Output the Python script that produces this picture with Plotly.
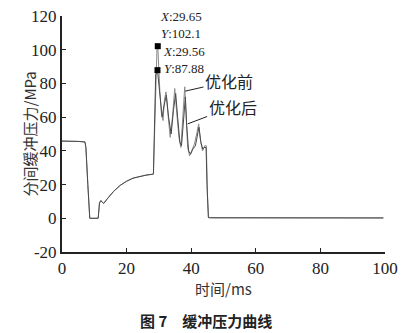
import plotly.graph_objects as go

# shared early part (ms, MPa)
t_common = [0, 2, 5, 7.1, 7.4, 8.0, 8.4, 8.6, 11.2, 11.6, 12.0, 12.5, 12.9, 14, 16, 18, 20, 22, 24, 26, 28.3]
p_common = [45.8, 45.8, 45.6, 45.3, 42, 20, 8, 0, 0, 9, 10.5, 9.5, 8.8, 11.5, 16, 19.5, 22, 23.8, 24.8, 25.6, 26.2]

t_after = [28.7, 29.0, 29.56, 30.0, 30.5, 31.0, 31.5, 32.3, 33.0, 33.8, 34.5, 35.2, 35.8, 36.5, 37.0, 37.6,
           38.2, 38.6, 39.2, 39.8, 40.5, 41.3, 42.0, 42.4, 43.0, 43.6, 44.0, 44.6, 44.9, 45.3, 46, 60, 80, 99.5]
p_after = [60, 85, 87.88, 80, 68, 60, 66, 73, 60, 50, 64, 74, 60, 45, 43, 60,
           72, 55, 40, 38, 41, 43, 50, 54, 45, 41, 42, 42, 20, 0.5, 0.3, 0.3, 0.2, 0.2]

t_before = [28.7, 29.2, 29.4, 29.65, 29.9, 30.3, 30.8, 31.3, 31.7, 32.2, 32.8, 33.5, 34.2, 34.9, 35.5, 36.2,
            36.8, 37.4, 38.0, 38.4, 38.9, 39.5, 40.2, 41.0, 41.8, 42.3, 42.9, 43.5, 44.2, 44.7, 45.0, 45.4, 46, 60, 80, 99.5]
p_before = [60, 88, 100, 102.1, 90, 75, 62, 58, 70, 75, 62, 48, 60, 77, 63, 48,
            42, 60, 78, 62, 42, 37, 40, 44, 51, 56, 46, 40, 43, 43, 15, 0.3, 0.3, 0.3, 0.2, 0.2]

peak_x = [29.65, 29.56]
peak_y = [102.1, 87.88]

x_ticks = [0, 20, 40, 60, 80, 100]
x_labels = ["0", "20", "40", "60", "80", "100"]
y_ticks = [-20, 0, 20, 40, 60, 80, 100, 120]
y_labels = ["-20", "0", "20", "40", "60", "80", "100", "120"]

serif = "Liberation Serif"
cjk = "Noto Sans CJK SC"

fig = go.Figure()
fig.add_trace(go.Scatter(x=t_common + t_before, y=p_common + p_before, mode="lines",
                         line=dict(color="#8a8a8a", width=1), name="优化前"))
fig.add_trace(go.Scatter(x=t_common + t_after, y=p_common + p_after, mode="lines",
                         line=dict(color="#4a4a4a", width=1), name="优化后"))
fig.add_trace(go.Scatter(x=peak_x, y=peak_y, mode="markers",
                         marker=dict(symbol="square", size=6, color="black")))

fig.update_layout(
    template="none",
    width=406, height=333, margin=dict(l=62, r=21, t=16, b=81),
    paper_bgcolor="white", plot_bgcolor="white", showlegend=False,
    font=dict(family="Times New Roman", size=17, color="#222"),
    xaxis=dict(range=[0, 100], tickmode="array", tickvals=x_ticks, ticktext=x_labels,
               showgrid=False, zeroline=False, showline=True, linecolor="#222", linewidth=2,
               ticks="inside", ticklen=4, tickcolor="#222",
               tickfont=dict(family="Times New Roman", size=17, color="#222")),
    yaxis=dict(range=[-20, 120], tickmode="array", tickvals=y_ticks, ticktext=y_labels,
               showgrid=False, zeroline=False, showline=True, linecolor="#222", linewidth=2,
               ticks="inside", ticklen=4, tickcolor="#222",
               tickfont=dict(family="Times New Roman", size=17, color="#222")),
)

fig.add_annotation(text="时间/ms", xref="paper", yref="paper", x=0.5, y=0, yshift=-36,
                   showarrow=False, font=dict(family=cjk, size=15, color="#333"), yanchor="middle")
fig.add_annotation(text="分间缓冲压力/MPa", xref="paper", yref="paper", x=0, xshift=-46, y=0.5,
                   textangle=-90, showarrow=False, font=dict(family=cjk, size=15, color="#333"))
fig.add_annotation(text="<b>图 7　缓冲压力曲线</b>", xref="paper", yref="paper", x=0.446, y=0,
                   yshift=-68, yanchor="middle", showarrow=False, font=dict(family=cjk, size=15, color="#222"))

fig.add_annotation(text="<i>X</i>:29.65<br><i>Y</i>:102.1", x=29.65, y=102.1, xanchor="left",
                   yanchor="bottom", xshift=0, yshift=3, showarrow=False, align="left",
                   font=dict(family=serif, size=13, color="#222"))
fig.add_annotation(text="<i>X</i>:29.56<br><i>Y</i>:87.88", x=29.65, y=102.1, xanchor="left",
                   yanchor="top", xshift=3, yshift=4, showarrow=False, align="left",
                   font=dict(family=serif, size=13, color="#222"))

fig.add_annotation(text="优化前", x=38.1, y=75.4, ax=44, ay=-10, showarrow=True, arrowhead=0,
                   arrowwidth=1, arrowcolor="#222", font=dict(family=cjk, size=16, color="#222"))
fig.add_annotation(text="优化后", x=38.9, y=56, ax=45, ay=-17, showarrow=True, arrowhead=0,
                   arrowwidth=1, arrowcolor="#222", font=dict(family=cjk, size=16, color="#222"))

fig.write_html("out.html")
